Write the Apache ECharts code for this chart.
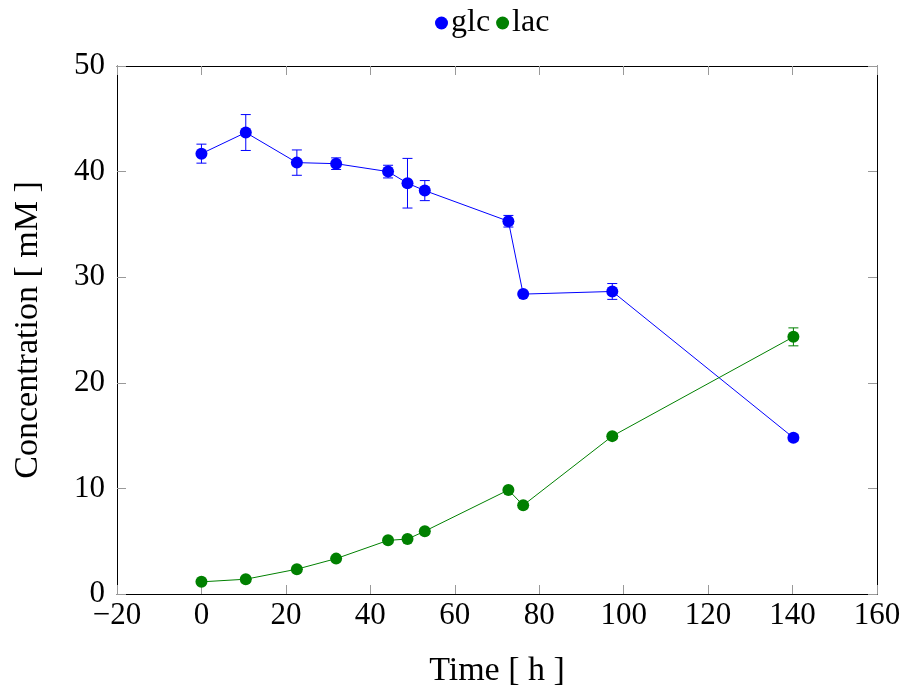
<!DOCTYPE html>
<html><head><meta charset="utf-8">
<script src="https://cdn.jsdelivr.net/npm/echarts@6/dist/echarts.min.js"></script>
<style>html,body{margin:0;padding:0;background:#fff}#c{width:904px;height:689px}</style>
</head><body><div id="c"></div>
<script>
const time = [0, 10.5, 22.6, 31.9, 44.2, 48.8, 52.9, 72.7, 76.2, 97.3, 140.2];
const glc = [41.7, 43.7, 40.85, 40.75, 40.0, 38.9, 38.2, 35.3, 28.4, 28.65, 14.8];
const glcErr = [0.9, 1.7, 1.2, 0.55, 0.6, 2.35, 0.95, 0.55, 0, 0.75, 0.3];
const lac = [1.15, 1.4, 2.35, 3.35, 5.08, 5.2, 5.95, 9.85, 8.4, 14.95, 24.35];
const lacErr = [0, 0, 0, 0, 0, 0, 0, 0, 0, 0, 0.85];
const seriesNames = ['glc', 'lac'];
const colors = ['#0000ff', '#008000'];

const FONT = 'Liberation Serif';
function pairs(vals){ return time.map((t,i)=>[t, vals[i]]); }
function errData(vals, errs){ return time.map((t,i)=>[t, vals[i]-errs[i], vals[i]+errs[i]]).filter((d,i)=>errs[i]>0); }
function errSeries(vals, errs, color){
  return {
    type:'custom', silent:true, z:1,
    data: errData(vals, errs),
    renderItem: function(params, api){
      const x = api.value(0);
      const lo = api.coord([x, api.value(1)]);
      const hi = api.coord([x, api.value(2)]);
      const w = 5;
      const st = {stroke: color, lineWidth: 1};
      return {type:'group', children:[
        {type:'line', shape:{x1:lo[0], y1:lo[1], x2:hi[0], y2:hi[1]}, style:st},
        {type:'line', shape:{x1:lo[0]-w, y1:lo[1], x2:lo[0]+w, y2:lo[1]}, style:st},
        {type:'line', shape:{x1:hi[0]-w, y1:hi[1], x2:hi[0]+w, y2:hi[1]}, style:st}
      ]};
    }
  };
}
const chart = echarts.init(document.getElementById('c'));
function axisBase(){
  return {
    axisLine:{show:true, onZero:false, lineStyle:{color:'#000', width:1}},
    axisTick:{show:true, inside:true, length:9, lineStyle:{color:'#999'}},
    splitLine:{show:false},
    axisLabel:{color:'#000', fontFamily:FONT, fontSize:31},
  };
}
chart.setOption({
  animation:false,
  textStyle:{fontFamily:FONT},
  legend:{
    top:2, left:430, itemGap:6, itemWidth:13, itemHeight:13,
    data: seriesNames.map(n=>({name:n, icon:'circle'})),
    textStyle:{fontFamily:FONT, fontSize:32, color:'#000', padding:[0,0,0,-2]}
  },
  grid:{left:117, right:27, top:66, bottom:95, containLabel:false, outerBoundsMode:'none'},
  xAxis:[
    Object.assign(axisBase(), {type:'value', min:-20, max:160, interval:20,
      name:'Time [ h ]', nameLocation:'middle', nameGap:60,
      nameTextStyle:{fontFamily:FONT, fontSize:34, color:'#000'},
      axisLabel:{color:'#000', fontFamily:FONT, fontSize:31, margin:6, formatter:v=>v<0?'\u2212'+(-v):''+v}}),
    Object.assign(axisBase(), {type:'value', position:'top', min:-20, max:160, interval:20,
      axisLabel:{show:false}})
  ],
  yAxis:[
    Object.assign(axisBase(), {type:'value', min:0, max:50, interval:10,
      name:'Concentration [ mM ]', nameLocation:'middle', nameGap:72,
      nameTextStyle:{fontFamily:FONT, fontSize:34, color:'#000'},
      axisLabel:{color:'#000', fontFamily:FONT, fontSize:31, margin:12}}),
    Object.assign(axisBase(), {type:'value', position:'right', min:0, max:50, interval:10,
      axisLabel:{show:false}})
  ],
  series:[
    errSeries(glc, glcErr, colors[0]),
    errSeries(lac, lacErr, colors[1]),
    {name:'glc', type:'line', data:pairs(glc), symbol:'circle', symbolSize:12,
      itemStyle:{color:colors[0]}, lineStyle:{color:colors[0], width:1}, z:3},
    {name:'lac', type:'line', data:pairs(lac), symbol:'circle', symbolSize:12,
      itemStyle:{color:colors[1]}, lineStyle:{color:colors[1], width:1}, z:3}
  ]
});
</script></body></html>
